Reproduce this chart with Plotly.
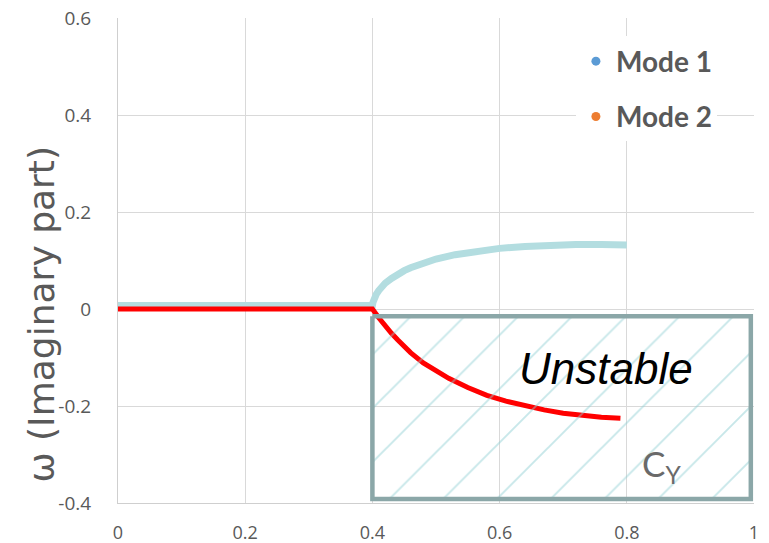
import plotly.graph_objects as go

# Eigenvalue branches: imaginary part of each mode versus the control parameter
mode1_x = [0.0, 0.1, 0.2, 0.3, 0.4, 0.401, 0.403, 0.406, 0.41, 0.415, 0.42, 0.43, 0.44,
           0.45, 0.46, 0.48, 0.50, 0.53, 0.56, 0.60, 0.64, 0.68, 0.72, 0.76, 0.80]
mode1_y = [0.007, 0.007, 0.007, 0.007, 0.007, 0.014, 0.022, 0.030, 0.038, 0.046, 0.053,
           0.063, 0.072, 0.079, 0.085, 0.095, 0.103, 0.112, 0.119, 0.125, 0.129, 0.132,
           0.133, 0.133, 0.132]

mode2_x = [0.0, 0.1, 0.2, 0.3, 0.4, 0.41, 0.42, 0.43, 0.44, 0.46, 0.48, 0.50, 0.52,
           0.55, 0.58, 0.61, 0.64, 0.67, 0.70, 0.73, 0.76, 0.79]
mode2_y = [0.0, 0.0, 0.0, 0.0, 0.0, -0.018, -0.035, -0.050, -0.064, -0.090, -0.111,
           -0.128, -0.143, -0.162, -0.178, -0.190, -0.200, -0.208, -0.215, -0.220,
           -0.223, -0.225]

# Unstable region boundaries
unstable_x = [0.4, 0.995]
unstable_y = [-0.392, -0.015]

x_ticks = [0, 0.2, 0.4, 0.6, 0.8, 1]
x_tick_text = ["0", "0.2", "0.4", "0.6", "0.8", "1"]
y_ticks = [-0.4, -0.2, 0, 0.2, 0.4, 0.6]
y_tick_text = ["-0.4", "-0.2", "0", "0.2", "0.4", "0.6"]

GRAY_TEXT = "#595959"
GRID = "#d9d9d9"

fig = go.Figure()

fig.add_trace(go.Scatter(
    x=mode1_x, y=mode1_y, mode="lines",
    line=dict(color="#b3dde0", width=7),
    showlegend=False, hoverinfo="skip"))

fig.add_trace(go.Scatter(
    x=mode2_x, y=mode2_y, mode="lines",
    line=dict(color="#ff0000", width=5),
    showlegend=False, hoverinfo="skip"))

# Hatched unstable box
bx = [unstable_x[0], unstable_x[1], unstable_x[1], unstable_x[0], unstable_x[0]]
by = [unstable_y[1], unstable_y[1], unstable_y[0], unstable_y[0], unstable_y[1]]
fig.add_trace(go.Scatter(
    x=bx, y=by, mode="lines", fill="toself",
    fillcolor="rgba(0,0,0,0)",
    fillpattern=dict(shape="/", fgcolor="#8fcfd3", bgcolor="rgba(0,0,0,0)",
                     size=38, solidity=0.05, fillmode="overlay"),
    line=dict(color="#8ba7a8", width=4.5),
    showlegend=False, hoverinfo="skip"))

# Legend entries
fig.add_trace(go.Scatter(x=[None], y=[None], mode="markers", name="Mode 1",
                         marker=dict(color="#5b9bd5", size=9), legendgroup="m1"))
fig.add_trace(go.Scatter(x=[None], y=[None], mode="markers", name="Mode 2",
                         marker=dict(color="#ed7d31", size=9), legendgroup="m2"))

fig.add_annotation(text="<i>Unstable</i>", x=0.767, y=-0.122, xref="x", yref="y",
                   xanchor="center", yanchor="middle",
                   showarrow=False, font=dict(family="Liberation Sans", size=44, color="#000000"))
fig.add_annotation(text="C<sub>Y</sub>", x=0.855, y=-0.322, xref="x", yref="y",
                   xanchor="center", yanchor="middle",
                   showarrow=False, font=dict(family="Lato", size=35, color="#6a6a6a"))
fig.add_annotation(text="ω (Imaginary part)", textangle=-90,
                   x=-0.12, y=0.39, xref="paper", yref="paper",
                   xanchor="center", yanchor="middle",
                   showarrow=False, font=dict(family="DejaVu Sans", size=36, color=GRAY_TEXT))

fig.update_layout(
    width=769, height=543,
    margin=dict(l=118, r=15, t=18, b=40, autoexpand=False),
    paper_bgcolor="white", plot_bgcolor="white",
    font=dict(family="Open Sans", color=GRAY_TEXT),
    legend=dict(x=0.72, y=0.962, xanchor="left", yanchor="top",
                bgcolor="white", borderwidth=0, tracegroupgap=16,
                font=dict(family="Lato", size=28, color=GRAY_TEXT, weight="bold")),
    xaxis=dict(range=[0, 1], tickvals=x_ticks, ticktext=x_tick_text,
               showgrid=True, gridcolor=GRID, gridwidth=1, zeroline=False,
               showline=True, linecolor="#cfcfcf", ticks="", automargin=False,
               tickfont=dict(size=18, color=GRAY_TEXT), ticklabelstandoff=13),
    yaxis=dict(range=[-0.4, 0.6], tickvals=y_ticks, ticktext=y_tick_text,
               showgrid=True, gridcolor=GRID, gridwidth=1, zeroline=False,
               showline=True, linecolor="#cfcfcf", ticks="", automargin=False,
               tickfont=dict(size=19, color=GRAY_TEXT), ticklabelstandoff=22),
)

fig.write_html("out.html")
